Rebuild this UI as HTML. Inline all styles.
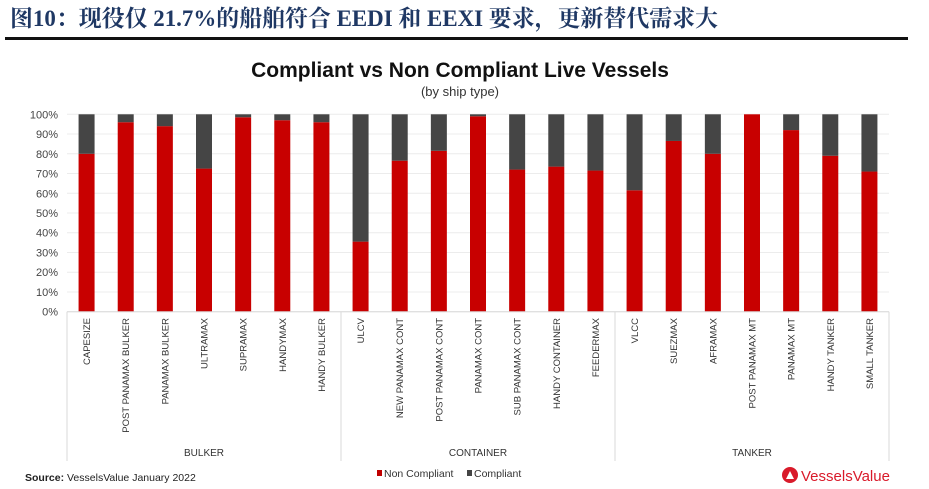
<!DOCTYPE html>
<html><head><meta charset="utf-8">
<style>
body{margin:0;width:929px;height:484px;background:#fff;overflow:hidden;font-family:"Liberation Sans","Noto Sans CJK SC",sans-serif;}
</style></head>
<body>
<svg width="929" height="484" xmlns="http://www.w3.org/2000/svg">
<text x="10" y="26" font-family="'Liberation Serif','Noto Serif CJK SC',serif" font-weight="bold" font-size="23" textLength="708" lengthAdjust="spacingAndGlyphs" fill="#1f3864">图10：现役仅 21.7%的船舶符合 EEDI 和 EEXI 要求，更新替代需求大</text>
<rect x="5" y="37" width="903" height="3" fill="#111"/>
<text x="460" y="77" text-anchor="middle" font-weight="bold" font-size="21" fill="#111">Compliant vs Non Compliant Live Vessels</text>
<text x="460" y="96" text-anchor="middle" font-size="13" fill="#333">(by ship type)</text>
<g id="grid"></g><g id="bars"></g><g id="axis"></g>
<text x="25" y="481" font-size="10.5" fill="#222"><tspan font-weight="bold">Source:</tspan> VesselsValue January 2022</text>
<rect x="377" y="470" width="5" height="6" fill="#c00000"/>
<text x="384" y="477" font-size="10.5" fill="#333">Non Compliant</text>
<rect x="467" y="470" width="5" height="6" fill="#444"/>
<text x="474" y="477" font-size="10.5" fill="#333">Compliant</text>
<g>
<circle cx="790" cy="475" r="8" fill="#d91a2a"/>
<polygon points="786,479 794,479 790,471" fill="#fff"/>
<text x="801" y="481" font-size="15" fill="#d91a2a">VesselsValue</text>
</g>
</svg>
<script>
const categories=["CAPESIZE","POST PANAMAX BULKER","PANAMAX BULKER","ULTRAMAX","SUPRAMAX","HANDYMAX","HANDY BULKER","ULCV","NEW PANAMAX CONT","POST PANAMAX CONT","PANAMAX CONT","SUB PANAMAX CONT","HANDY CONTAINER","FEEDERMAX","VLCC","SUEZMAX","AFRAMAX","POST PANAMAX MT","PANAMAX MT","HANDY TANKER","SMALL TANKER"];
const nonCompliant=[80,96,94,72.5,98.5,97,96,35.5,76.5,81.5,99,72,73.5,71.5,61.5,86.5,80,100,92,79,71];
const groups=["BULKER","CONTAINER","TANKER"];
const groupSizes=[7,7,7];
const yTicks=[0,10,20,30,40,50,60,70,80,90,100];
const NS="http://www.w3.org/2000/svg";
const X0=67,X1=889,Y0=311.7,Y1=114.3;
const step=(X1-X0)/categories.length;
const xc=i=>X0+step*(i+0.5);
const y=v=>Y0-(Y0-Y1)*v/100;
function mk(tag,attrs,parent){const e=document.createElementNS(NS,tag);for(const k in attrs)e.setAttribute(k,attrs[k]);document.getElementById(parent).appendChild(e);return e;}
yTicks.forEach(t=>{
  const l=mk('line',{x1:X0,x2:X1,y1:y(t),y2:y(t),stroke:'#ececec','stroke-width':1},'grid');
  
  
  const tx=mk('text',{x:58,y:y(t)+4,'text-anchor':'end','font-size':11,fill:'#444'},'grid');
  tx.textContent=t+'%';
  
  
});
const bw=16;
categories.forEach((c,i)=>{
  const v=nonCompliant[i];
  const r1=mk('rect',{x:xc(i)-bw/2,y:y(v),width:bw,height:y(0)-y(v),fill:'#c80000'},'bars');
  
  
  const r2=mk('rect',{x:xc(i)-bw/2,y:y(100),width:bw,height:y(v)-y(100),fill:'#454545'},'bars');
  
  
  const t=mk('text',{transform:`translate(${xc(i)+3.5},318) rotate(-90)`,'text-anchor':'end','font-size':9.5,fill:'#333'},'axis');
  t.textContent=c;
  
  
});
const base=mk('line',{x1:X0,x2:X1,y1:Y0,y2:Y0,stroke:'#d9d9d9'},'axis');


let start=0;
const bounds=[X0];
groupSizes.forEach((n,g)=>{
  const gx0=X0+step*start,gx1=X0+step*(start+n);
  bounds.push(gx1);
  const t=mk('text',{x:(gx0+gx1)/2,y:456,'text-anchor':'middle','font-size':10,fill:'#333'},'axis');
  t.textContent=groups[g];
  
  
  start+=n;
});
bounds.forEach((bx,k)=>{
  const l=mk('line',{x1:bx,x2:bx,y1:Y0,y2:461,stroke:'#d9d9d9'},'axis');
  
  
});
</script>
</body></html>
